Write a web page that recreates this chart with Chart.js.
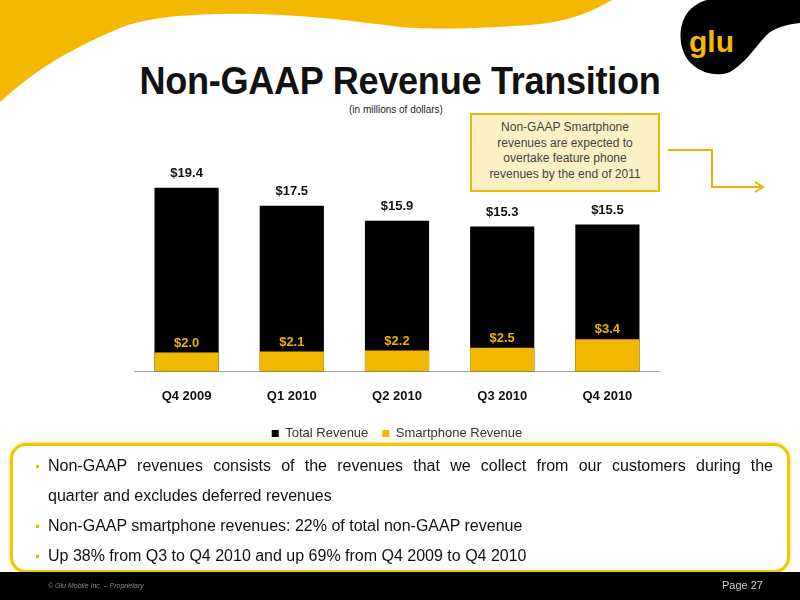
<!DOCTYPE html>
<html>
<head>
<meta charset="utf-8">
<script src="https://cdn.jsdelivr.net/npm/chart.js"></script>
<style>
  html, body { margin: 0; padding: 0; background: #fff; }
  #slide { position: relative; width: 800px; height: 600px; overflow: hidden; font-family: "Liberation Sans", Arial, sans-serif; }
  #bg { position: absolute; left: 0; top: 0; }
  #title { position: absolute; left: 0; width: 800px; top: 60px; text-align: center; font-weight: bold; font-size: 38px; color: #111; transform: scaleX(0.95); letter-spacing: -0.3px; }
  #subtitle { position: absolute; left: 0; width: 792px; top: 104px; text-align: center; font-size: 10px; color: #222; }
  #callout { position: absolute; left: 470px; top: 113px; width: 186px; height: 70px; background: #fdf0c4; border: 2px solid #e9b90c; font-size: 12px; line-height: 15.5px; color: #444; text-align: center; padding-top: 5px; box-sizing: content-box; }
  #chartBox { position: absolute; left: 0; top: 130px; width: 800px; height: 320px; }
  #notes { position: absolute; left: 10px; top: 443px; width: 774px; height: 124px; border: 3px solid #f2c500; border-radius: 16px; background: #fff; box-shadow: 0 0 4px #e9d26a; }
  #notes ul { margin: 5px 0 0 0; padding: 0; list-style: none; }
  #notes li { position: relative; font-size: 16px; line-height: 30px; color: #111; padding-left: 35px; padding-right: 14px; }
  #notes li::before { content: ""; position: absolute; left: 23px; top: 14px; width: 3px; height: 3px; background: #e8b400; }
  #notes .j { display: block; text-align: justify; text-align-last: justify; }
  #footer { position: absolute; left: 0; top: 572px; width: 800px; height: 28px; background: #000; }
  #copy { position: absolute; left: 48px; top: 10px; font-size: 7px; font-style: italic; color: #888; }
  #page { position: absolute; left: 722px; top: 7px; font-size: 11px; color: #ccc; }
</style>
</head>
<body>
<div id="slide">
  <svg id="bg" width="800" height="600">
    <path d="M0 0 L612 0 C595 10 570 22 530 25 C480 28 440 30 400 27 C360 22 320 16 260 14 C200 13 150 16 120 28 C80 45 40 65 0 102 Z" fill="#f4b800"/>
    <path d="M707 0 L800 0 L800 23 C790 24 780 26 770 32 C758 42 748 62 730 72 C715 78 698 72 688 60 C678 46 678 25 688 12 C694 5 700 2 707 0 Z" fill="#000"/>
    <text x="689" y="52" font-family="Liberation Sans, Arial" font-weight="bold" font-size="30" fill="#f4b800">glu</text>
    <polyline points="668,150 712,150 712,187 762,187" fill="none" stroke="#eab200" stroke-width="2"/>
    <polyline points="755,182 763,187 755,192" fill="none" stroke="#eab200" stroke-width="2"/>
  </svg>
  <div id="title">Non-GAAP Revenue Transition</div>
  <div id="subtitle">(in millions of dollars)</div>
  <div id="chartBox"><canvas id="chart"></canvas></div>
  <div id="callout">Non-GAAP Smartphone<br>revenues are expected to<br>overtake feature phone<br>revenues by the end of 2011</div>
  <div id="notes">
    <ul>
      <li><span class="j">Non-GAAP revenues consists of the revenues that we collect from our customers during the</span>quarter and excludes deferred revenues</li>
      <li>Non-GAAP smartphone revenues: 22% of total non-GAAP revenue</li>
      <li>Up 38% from Q3 to Q4 2010 and up 69% from Q4 2009 to Q4 2010</li>
    </ul>
  </div>
  <div id="footer">
    <div id="copy">© Glu Mobile Inc. – Proprietary</div>
    <div id="page">Page 27</div>
  </div>
</div>
<script>
const quarters = ["Q4 2009", "Q1 2010", "Q2 2010", "Q3 2010", "Q4 2010"];
const totalRevenue = [19.4, 17.5, 15.9, 15.3, 15.5];
const smartphoneRevenue = [2.0, 2.1, 2.2, 2.5, 3.4];

// value labels: totals above the black bars, smartphone above the yellow part
const valueLabels = {
  id: "valueLabels",
  afterDatasetsDraw(chart) {
    const ctx = chart.ctx;
    ctx.save();
    ctx.textAlign = "center";
    ctx.textBaseline = "bottom";
    ctx.font = "bold 13px 'Liberation Sans', Arial";
    chart.getDatasetMeta(0).data.forEach(function (bar, i) {
      ctx.fillStyle = "#111";
      ctx.fillText("$" + totalRevenue[i].toFixed(1), bar.x, bar.y - 8);
    });
    chart.getDatasetMeta(1).data.forEach(function (bar, i) {
      ctx.fillStyle = "#e8b400";
      ctx.fillText("$" + smartphoneRevenue[i].toFixed(1), bar.x, bar.y - 3);
    });
    ctx.restore();
  },
};

new Chart(document.getElementById("chart"), {
  type: "bar",
  data: {
    labels: quarters,
    datasets: [
      { label: "Total Revenue", data: totalRevenue, backgroundColor: "#000", order: 2, barPercentage: 0.61, categoryPercentage: 1 },
      { label: "Smartphone Revenue", data: smartphoneRevenue, backgroundColor: "#f2b700", order: 1, barPercentage: 0.61, categoryPercentage: 1 },
    ],
  },
  options: {
    responsive: true,
    maintainAspectRatio: false,
    animation: false,
    layout: { padding: { left: 134, right: 140, top: 52, bottom: 0 } },
    plugins: {
      tooltip: { enabled: false },
      legend: {
        position: "bottom",
        labels: {
          sort: function (a, b) { return a.datasetIndex - b.datasetIndex; },
          boxWidth: 7,
          boxHeight: 7,
          padding: 14,
          color: "#333",
          font: { family: "'Liberation Sans', Arial", size: 13 },
        },
      },
    },
    scales: {
      x: {
        stacked: true,
        grid: { display: false },
        border: { color: "#aaa", width: 1 },
        ticks: { color: "#111", padding: 9, font: { family: "'Liberation Sans', Arial", size: 13, weight: "bold" } },
      },
      y: {
        stacked: false,
        display: false,
        min: 0,
        max: 20,
      },
    },
  },
  plugins: [valueLabels],
});
</script>
</body>
</html>
